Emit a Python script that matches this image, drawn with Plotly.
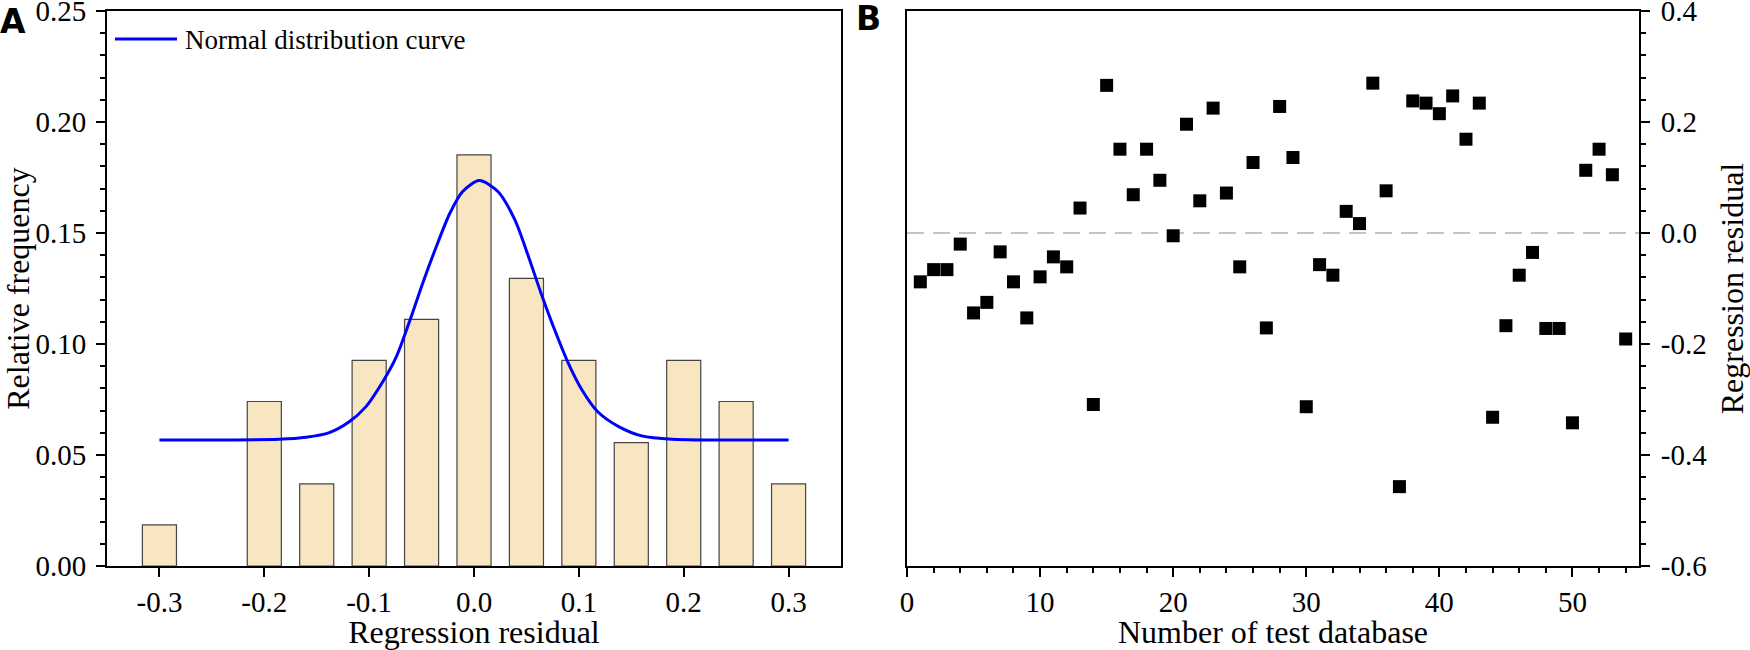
import plotly.graph_objects as go

# ---------------- data ----------------
bin_centers = [-0.30, -0.25, -0.20, -0.15, -0.10, -0.05, 0.00, 0.05, 0.10, 0.15, 0.20, 0.25, 0.30]
rel_freq = [0.0185, 0.0, 0.0741, 0.0370, 0.0926, 0.1111, 0.1852, 0.1296, 0.0926, 0.0556, 0.0926, 0.0741, 0.0370]

curve_x = [-0.300, -0.186, -0.160, -0.138, -0.119, -0.103, -0.087, -0.074, -0.061, -0.049,
           -0.036, -0.023, -0.011, 0.005, 0.023, 0.039, 0.052, 0.064, 0.077, 0.090,
           0.103, 0.118, 0.138, 0.160, 0.189, 0.300]
curve_y = [0.0568, 0.0571, 0.0580, 0.0601, 0.0650, 0.0718, 0.0830, 0.0943, 0.1108, 0.1273,
           0.1438, 0.1589, 0.1686, 0.1736, 0.1686, 0.1559, 0.1393, 0.1228, 0.1063, 0.0913,
           0.0793, 0.0695, 0.0628, 0.0586, 0.0571, 0.0568]

test_no = [1, 2, 3, 4, 5, 6, 7, 8, 9, 10, 11, 12, 13, 14, 15, 16, 17, 18, 19, 20,
           21, 22, 23, 24, 25, 26, 27, 28, 29, 30, 31, 32, 33, 34, 35, 36, 37, 38, 39, 40,
           41, 42, 43, 44, 45, 46, 47, 48, 49, 50, 51, 52, 53, 54]
residual = [-0.088, -0.066, -0.066, -0.020, -0.144, -0.125, -0.034, -0.088, -0.153, -0.079,
            -0.043, -0.061, 0.045, -0.309, 0.266, 0.151, 0.069, 0.151, 0.095, -0.005,
            0.196, 0.058, 0.225, 0.072, -0.061, 0.127, -0.171, 0.228, 0.136, -0.313,
            -0.057, -0.076, 0.039, 0.017, 0.270, 0.076, -0.457, 0.238, 0.234, 0.215,
            0.247, 0.169, 0.234, -0.332, -0.167, -0.076, -0.035, -0.172, -0.172, -0.342,
            0.113, 0.151, 0.105, -0.191]

a_xticks = [-0.3, -0.2, -0.1, 0.0, 0.1, 0.2, 0.3]
a_xticktext = ["-0.3", "-0.2", "-0.1", "0.0", "0.1", "0.2", "0.3"]
a_yticks = [0.00, 0.05, 0.10, 0.15, 0.20, 0.25]
a_yticktext = ["0.00", "0.05", "0.10", "0.15", "0.20", "0.25"]
b_xticks = [0, 10, 20, 30, 40, 50]
b_yticks = [0.4, 0.2, 0.0, -0.2, -0.4, -0.6]
b_yticktext = ["0.4", "0.2", "0.0", "-0.2", "-0.4", "-0.6"]

# ---------------- figure ----------------
W, H = 1750, 650
ML, MR, MT, MB = 107, 111, 11, 84
PW = W - ML - MR
PH = H - MT - MB


def px_x(p):
    return (p - ML) / PW


def px_y(p):
    return (H - MB - p) / PH


SERIF = "Liberation Serif, Times New Roman, serif"
SANS_BOLD = "DejaVu Sans, Arial, sans-serif"

# only bins holding at least one case are drawn
bar_x = [c for c, f in zip(bin_centers, rel_freq) if f > 0]
bar_y = [f for f in rel_freq if f > 0]

fig = go.Figure()

fig.add_trace(go.Bar(
    x=bar_x, y=bar_y, width=0.0325,
    marker=dict(color="#F8E6C3", line=dict(color="#454545", width=1.2)),
    xaxis="x", yaxis="y", showlegend=False,
))

fig.add_trace(go.Scatter(
    x=curve_x, y=curve_y, mode="lines", line=dict(color="#0000FF", width=3, shape="spline", smoothing=0.8),
    name="Normal distribution curve", xaxis="x", yaxis="y", showlegend=False,
))

fig.add_trace(go.Scatter(
    x=test_no, y=residual, mode="markers",
    marker=dict(symbol="square", size=13, color="black", line=dict(width=0)),
    xaxis="x2", yaxis="y2", showlegend=False,
))

axis_common = dict(showline=True, linecolor="black", linewidth=2, mirror=True,
                   ticks="outside", ticklen=9, tickwidth=2, tickcolor="black",
                   showgrid=False, zeroline=False, automargin=False,
                   ticklabeloverflow="allow",
                   tickfont=dict(family=SERIF, size=29, color="black"))
minor_common = dict(ticks="outside", ticklen=5, tickwidth=1.5, tickcolor="black")

fig.update_layout(
    width=W, height=H,
    margin=dict(l=ML, r=MR, t=MT, b=MB, autoexpand=False),
    paper_bgcolor="white", plot_bgcolor="white",
    font=dict(family=SERIF, color="black"),
    xaxis=dict(domain=[0, px_x(841)], range=[-0.35, 0.35], anchor="y",
               tickvals=a_xticks, ticktext=a_xticktext,
               title=dict(text="Regression residual", font=dict(family=SERIF, size=32), standoff=5),
               **axis_common),
    yaxis=dict(domain=[0, 1], range=[0, 0.25001], anchor="x",
               tickvals=a_yticks, ticktext=a_yticktext, ticklabelstandoff=4,
               minor=dict(dtick=0.01, **minor_common),
               title=dict(text="Relative frequency", font=dict(family=SERIF, size=32), standoff=10),
               **axis_common),
    xaxis2=dict(domain=[px_x(907), 1], range=[0, 55], anchor="y2",
                tickvals=b_xticks,
                minor=dict(dtick=2, **minor_common),
                title=dict(text="Number of test database", font=dict(family=SERIF, size=32), standoff=5),
                **axis_common),
    yaxis2=dict(domain=[0, 1], range=[-0.6, 0.40001], anchor="x2", side="right",
                tickvals=b_yticks, ticktext=b_yticktext, ticklabelstandoff=5,
                minor=dict(dtick=0.04, **minor_common),
                title=dict(text="Regression residual", font=dict(family=SERIF, size=32), standoff=18),
                **axis_common),
)

# zero reference line in panel B
fig.add_shape(type="line", xref="x2 domain", yref="y2", x0=0, x1=1, y0=0, y1=0,
              line=dict(color="#C4C4C4", width=2, dash="17px,9px"), layer="below")

# legend (manual) for panel A
fig.add_shape(type="line", xref="paper", yref="paper",
              x0=px_x(115), x1=px_x(177), y0=px_y(39), y1=px_y(39),
              line=dict(color="#0000FF", width=3))
fig.add_annotation(text="Normal distribution curve", xref="paper", yref="paper",
                   x=px_x(183), y=px_y(40), xanchor="left", yanchor="middle", showarrow=False,
                   font=dict(family=SERIF, size=27, color="black"))

# panel letters
fig.add_annotation(text="<b>A</b>", xref="paper", yref="paper", x=px_x(-2), y=px_y(21),
                   xanchor="left", yanchor="middle", showarrow=False,
                   font=dict(family=SANS_BOLD, size=33, color="black"))
fig.add_annotation(text="<b>B</b>", xref="paper", yref="paper", x=px_x(854), y=px_y(19),
                   xanchor="left", yanchor="middle", showarrow=False,
                   font=dict(family=SANS_BOLD, size=33, color="black"))

# the page's default 8px body margin would shift the 1750x650 figure; remove it
fig.write_html("out.html", config={"displayModeBar": False},
               post_script="document.body.style.margin='0px';")
